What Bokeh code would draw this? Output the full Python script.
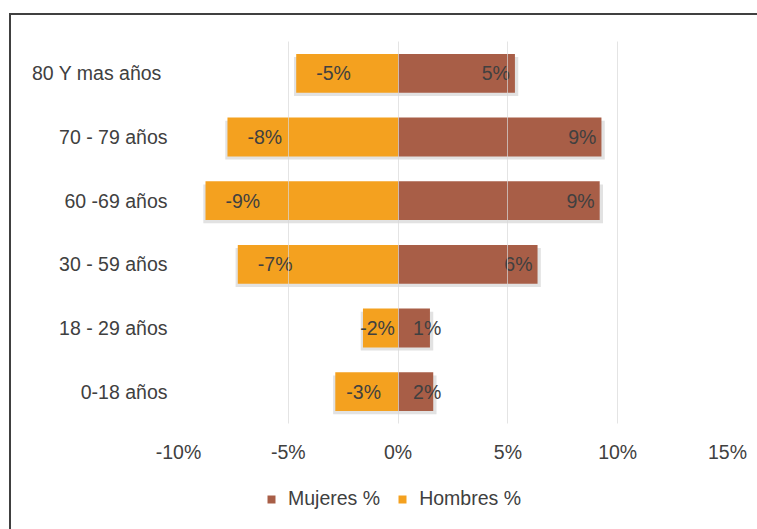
from bokeh.plotting import figure
from bokeh.layouts import column
from bokeh.models import ColumnDataSource, FactorRange, Legend, LegendItem, FixedTicker, Range1d
from bokeh.transform import dodge
from bokeh.core.properties import value
from bokeh.embed import file_html
from bokeh.resources import INLINE

categories = ["0-18 años", "18 - 29 años", "30 - 59 años", "60 -69 años", "70 - 79 años", "80 Y mas  años"]
hombres = [-2.86, -1.6, -7.3, -8.77, -7.77, -4.64]
mujeres = [1.6, 1.45, 6.35, 9.18, 9.26, 5.32]
x_ticks = [-10, -5, 0, 5, 10, 15]
series_names = ["Mujeres %", "Hombres %"]

FONT = "Liberation Sans"
FS = "19.5px"
TXT = "#404040"
ORANGE = "#F4A11F"
BROWN = "#A85E47"

def pct(v):
    return f"{round(v):.0f}%"

h_big = [abs(v) > 3 for v in hombres]
m_big = [abs(v) > 3 for v in mujeres]

src = ColumnDataSource(dict(
    cat=categories,
    hombres=hombres,
    mujeres=mujeres,
    zero=[0] * len(categories),
    h_sh=[v - 0.1 for v in hombres],
    m_sh=[v + 0.15 for v in mujeres],
))

p = figure(
    y_range=FactorRange(*categories),
    x_range=(-10, 15),
    width=746, height=455,
    output_backend="svg", toolbar_location=None,
    min_border_left=167, min_border_right=30, min_border_top=26, min_border_bottom=47,
)
p.outline_line_color = None
p.background_fill_color = "white"

# soft shadows under the bars
p.hbar(y=dodge("cat", -0.05, range=p.y_range), left="h_sh", right="zero", height=0.61,
       source=src, fill_color="#8a8a8a", fill_alpha=0.25, line_color=None)
p.hbar(y=dodge("cat", -0.05, range=p.y_range), left="zero", right="m_sh", height=0.61,
       source=src, fill_color="#8a8a8a", fill_alpha=0.25, line_color=None)

p.hbar(y="cat", left="zero", right="mujeres", height=0.61, source=src,
       fill_color=BROWN, line_color=None)
p.hbar(y="cat", left="hombres", right="zero", height=0.61, source=src,
       fill_color=ORANGE, line_color=None)

def lab_src(vals, big, kind):
    xs, txt, al, off = [], [], [], []
    for v, b in zip(vals, big):
        txt.append(pct(v))
        if kind == "h":
            if b:
                xs.append(v); al.append("left"); off.append(20)
            else:
                xs.append(v / 2); al.append("center"); off.append(-3)
        else:
            if b:
                xs.append(v); al.append("right"); off.append(-5)
            else:
                xs.append(0); al.append("left"); off.append(15)
    return ColumnDataSource(dict(cat=categories, x=xs, t=txt, al=al, off=off))

for kind, vals, big in (("h", hombres, h_big), ("m", mujeres, m_big)):
    s = lab_src(vals, big, kind)
    p.text(x="x", y="cat", text="t", source=s, text_align="al", x_offset="off",
           text_baseline="middle", text_font=value(FONT), text_font_size=FS,
           text_color=TXT)

p.xgrid.ticker = FixedTicker(ticks=x_ticks)
p.xgrid.grid_line_color = "#D9D9D9"
p.xgrid.level = "overlay"
p.xgrid.grid_line_alpha = 0.7
p.ygrid.grid_line_color = None

p.xaxis.ticker = FixedTicker(ticks=x_ticks)
p.xaxis.major_label_overrides = {t: f"{t}%" for t in x_ticks}
p.xaxis.axis_line_color = None
p.xaxis.major_tick_line_color = None
p.xaxis.minor_tick_line_color = None
p.xaxis.major_label_standoff = 11
p.yaxis.axis_line_color = None
p.yaxis.major_tick_line_color = None
p.yaxis.major_label_standoff = 5
for ax in (p.xaxis, p.yaxis):
    ax.major_label_text_font = FONT
    ax.major_label_text_font_size = FS
    ax.major_label_text_color = TXT

# legend strip (frame aligned with the main plot; handles kept outside its visible range)
lf = figure(width=746, height=59, output_backend="svg", toolbar_location=None,
            x_range=Range1d(0, 1), y_range=Range1d(0, 1),
            x_axis_location=None, y_axis_location=None,
            min_border_left=167, min_border_right=30, min_border_top=0, min_border_bottom=0)
lf.outline_line_color = None
lf.grid.grid_line_color = None
handle = ColumnDataSource(dict(y=[-5], l=[-5], r=[-4]))
lm = lf.hbar(y="y", left="l", right="r", height=1, source=handle, fill_color=BROWN, line_color=None)
lh = lf.hbar(y="y", left="l", right="r", height=1, source=handle, fill_color=ORANGE, line_color=None)
legend = Legend(items=[LegendItem(label=series_names[0], renderers=[lm]),
                       LegendItem(label=series_names[1], renderers=[lh])],
                orientation="horizontal", location=(88, 19),
                label_text_font=FONT, label_text_font_size=FS, label_text_color=TXT,
                glyph_width=10, glyph_height=10, label_standoff=12, spacing=17,
                border_line_color=None, background_fill_alpha=0, margin=0, padding=6)
lf.add_layout(legend, "center")

layout = column(p, lf, spacing=0)
layout.styles = {"margin-left": "9px", "margin-top": "13px",
                 "border-left": "2px solid #404040", "border-top": "2px solid #404040"}

open("out.html", "w").write(file_html(layout, INLINE))
